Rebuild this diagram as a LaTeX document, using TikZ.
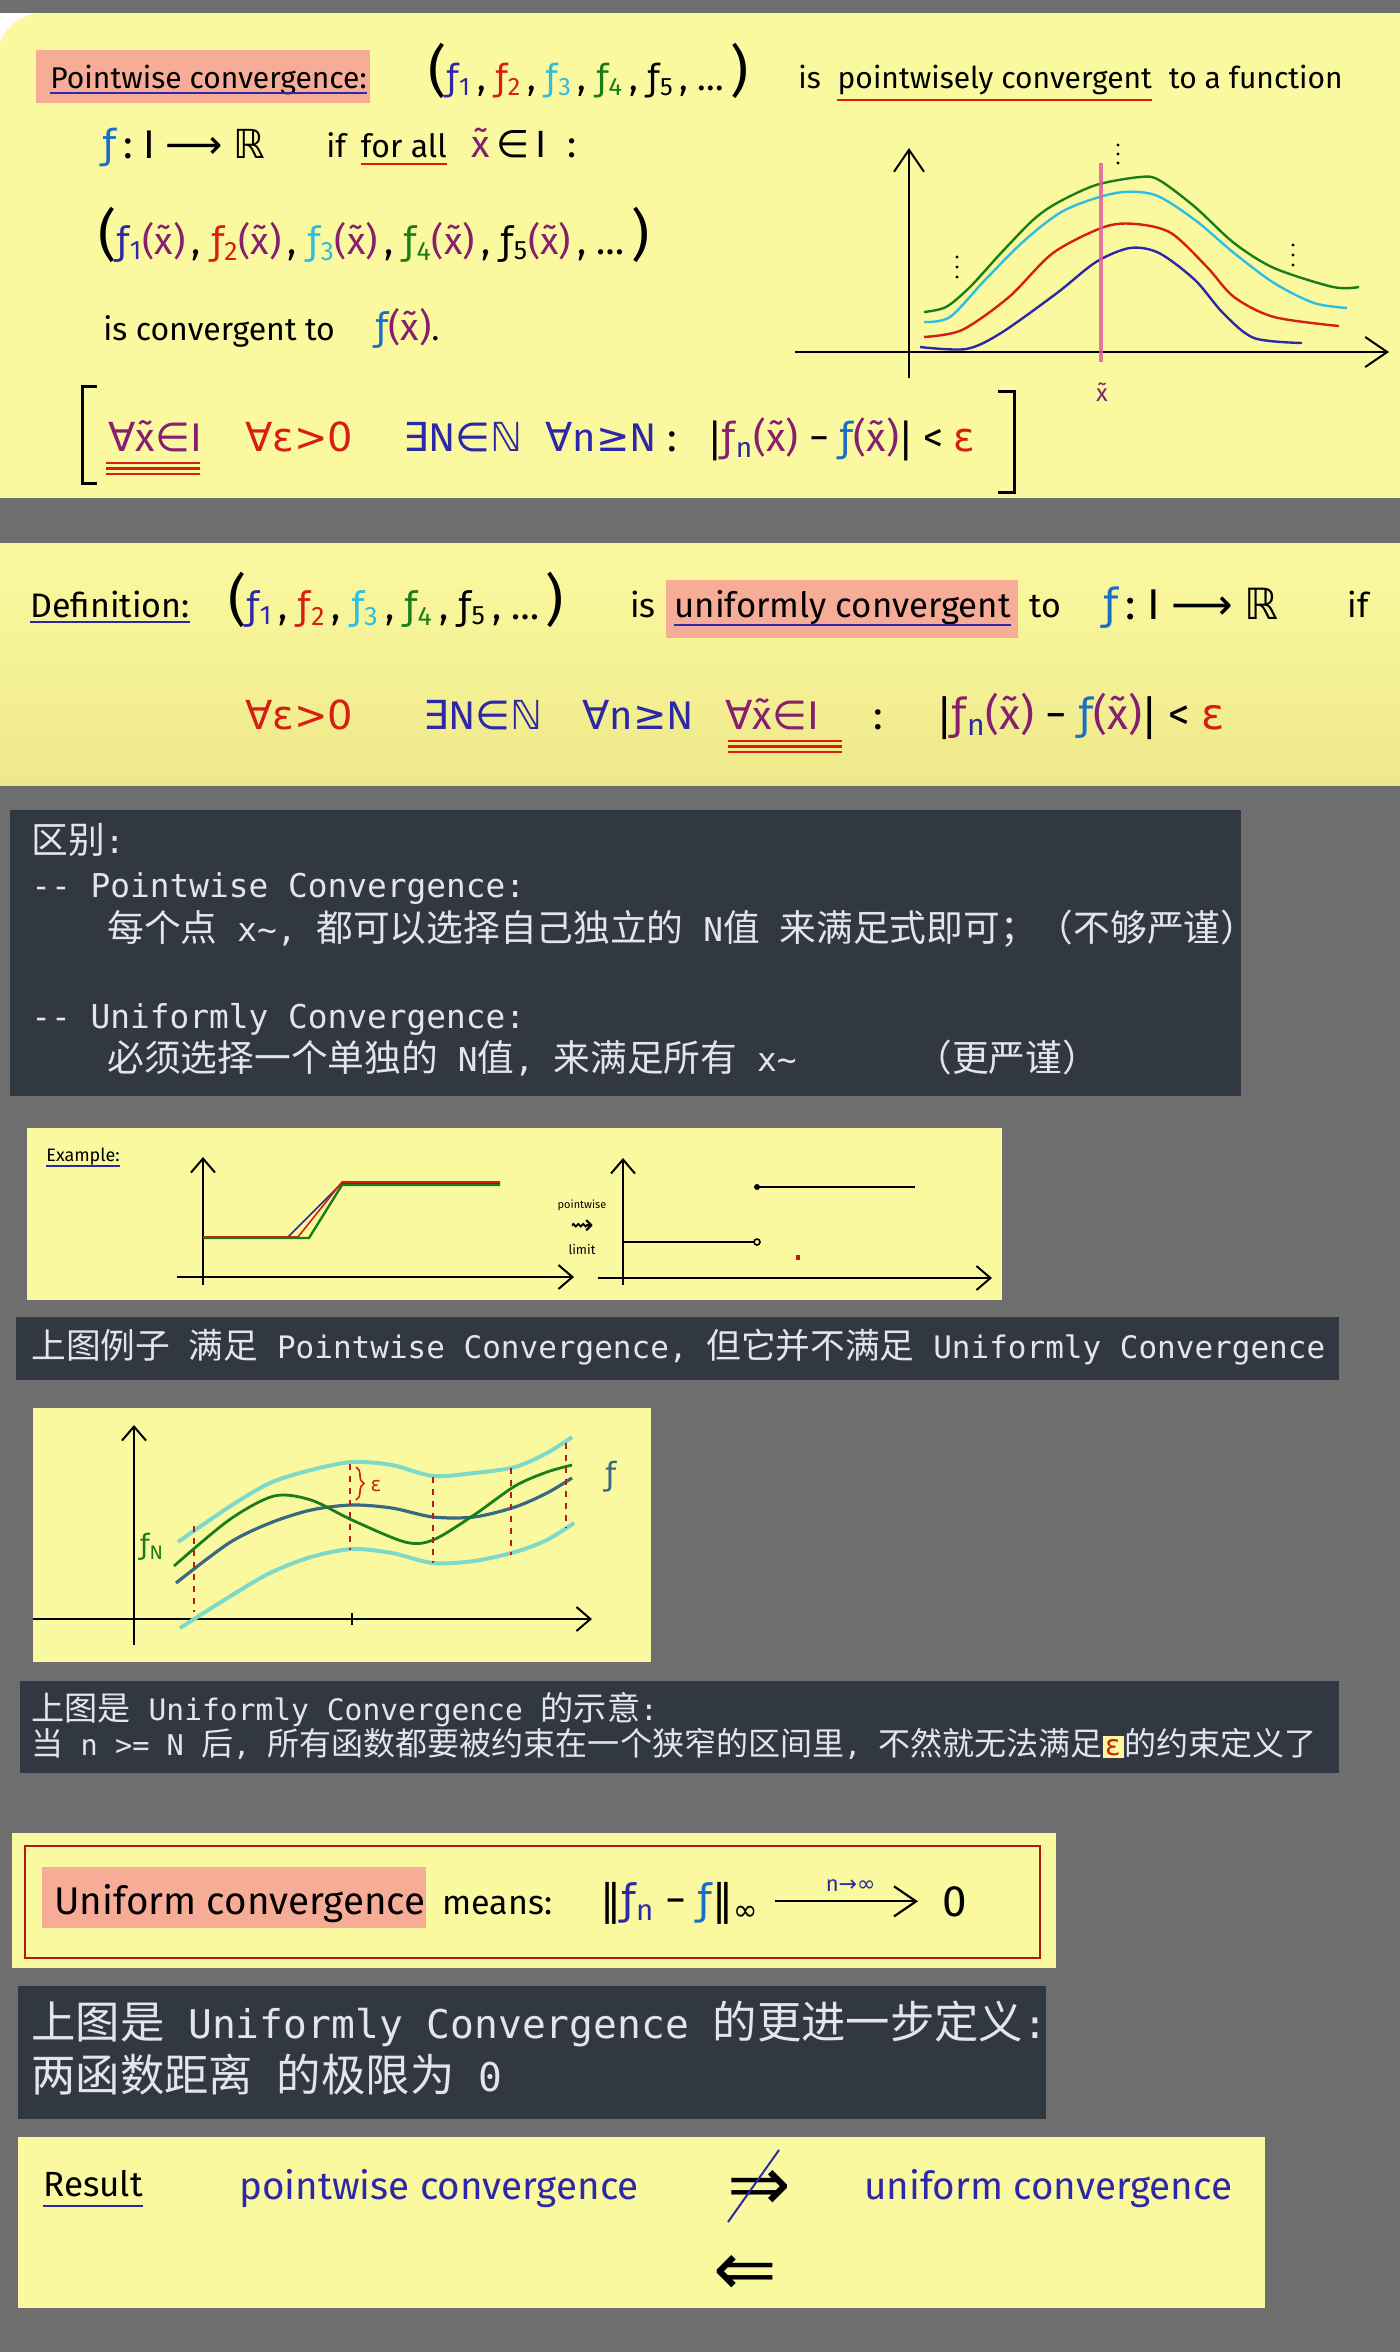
\documentclass[tikz,border=0pt]{standalone}
\usepackage{fontspec}
\setmainfont{Fira Sans}
\setmonofont{DejaVu Sans Mono}
\newfontfamily\symf{DejaVu Sans}
\newfontfamily\cjk[Scale=1.12]{Noto Sans CJK SC}
\usetikzlibrary{arrows.meta,positioning,decorations.pathreplacing}

\definecolor{bggray}{RGB}{110,110,110}
\definecolor{paper}{RGB}{251,249,160}
\definecolor{paperlow}{RGB}{238,233,138}
\definecolor{slate}{RGB}{50,56,66}
\definecolor{salmon}{RGB}{247,172,152}
\definecolor{indigo}{RGB}{45,40,165}
\definecolor{fred}{RGB}{215,30,20}
\definecolor{fcyan}{RGB}{45,190,225}
\definecolor{fgreen}{RGB}{25,125,25}
\definecolor{xpurple}{RGB}{135,30,110}
\definecolor{fblue}{RGB}{25,110,200}
\definecolor{pinkline}{RGB}{225,95,155}
\definecolor{mintband}{RGB}{125,218,200}
\definecolor{slateblue}{RGB}{55,105,130}
\definecolor{lighttext}{RGB}{226,229,233}
\definecolor{dashred}{RGB}{180,30,30}

\newcommand\zh[1]{{\cjk #1}}
\newcommand\sym[1]{{\symf #1}}
\newcommand\fsym{{\symf ƒ}}
\newcommand\xtil{\~{x}}
\newcommand\fcol[2]{\textcolor{#1}{\fsym\textsubscript{#2}}}
\newcommand\atx{\textcolor{xpurple}{(\xtil)}}
\newcommand\bigp[1]{{\fontsize{28}{28}\selectfont #1}}
\newcommand\fseq{\bigp{(}\fcol{indigo}{1}\,,\ \fcol{fred}{2}\,,\ \fcol{fcyan}{3}\,,\ \fcol{fgreen}{4}\,,\ \fcol{black}{5}\,,\ …\,\bigp{)}}
\newcommand\fvals{\bigp{(}\fcol{indigo}{1}\atx\,,\ \fcol{fred}{2}\atx\,,\ \fcol{fcyan}{3}\atx\,,\ \fcol{fgreen}{4}\atx\,,\ \fcol{black}{5}\atx\,,\ …\,\bigp{)}}
\newcommand\absdiff{\sym{|}\textcolor{xpurple}{\fsym}\textcolor{indigo}{\textsubscript{n}}\atx\ −\ \textcolor{fblue}{\fsym}\atx\sym{|}\ <\ \textcolor{fred}{\sym{ε}}}
\newcommand\mapsig{\textcolor{fblue}{\fsym}\,:\ I\ \sym{⟶}\ \sym{ℝ}}
\newcommand\epsbox{{\fboxsep=1.5pt\colorbox{paper}{\textcolor{fred}{\symf ε}}}}

\begin{document}
\begin{tikzpicture}[x=0.5pt, y=-0.5pt,
  >={Straight Barb[length=11pt,width=15pt]},
  txt/.style={inner sep=0pt, anchor=base west, font=\fontsize{15}{18}\selectfont},
  bigtxt/.style={inner sep=0pt, anchor=base west, font=\fontsize{20}{24}\selectfont},
  hand/.style={inner sep=0pt, anchor=base west, font=\fontsize{19.3}{22}\selectfont},
  note/.style={inner sep=0pt, anchor=base west, text=lighttext, font=\ttfamily\fontsize{#1}{#1}\selectfont},
  axis/.style={line width=1pt, ->},
  smallaxis/.style={line width=1pt, -{Straight Barb[length=7pt,width=12pt]}},
  curve/.style={line width=1.2pt},
  band/.style={mintband, line width=2pt},
  uline/.style={line width=1.4pt},
  cut/.style={dashred, dashed, line width=0.8pt}
]

% backdrop and panels
\fill[bggray] (0,0) rectangle (1400,2352);
\fill[paper] (0,13) rectangle (1400,498);
\fill[white] (0,13) -- (36,13) .. controls (15,18) and (4,30) .. (0,43) -- cycle;
\shade[top color=paper, bottom color=paperlow] (0,543) rectangle (1400,785);
\fill[slate] (10,810) rectangle (1241,1096);
\fill[paper] (27,1128) rectangle (1002,1300);
\fill[slate] (16,1317) rectangle (1339,1380);
\fill[paper] (33,1408) rectangle (651,1662);
\fill[slate] (20,1681) rectangle (1339,1773);
\fill[paper] (12,1833) rectangle (1056,1968);
\fill[slate] (18,1986) rectangle (1046,2119);
\fill[paper] (18,2137) rectangle (1265,2308);

% pointwise convergence
\fill[salmon] (36,50) rectangle (370,103);
\node[txt] (pwlabel) at (50,88) {Pointwise convergence:};
\draw[indigo, uline] ([yshift=-2.5pt]pwlabel.base west) -- ([yshift=-2.5pt]pwlabel.base east);
\node[txt, font=\fontsize{18}{22}\selectfont] (seq1) at (428,90) {\fseq};
\node[txt] (is1) at (798,88) {is};
\node[txt, base right=8pt of is1] (pwc) {pointwisely convergent};
\draw[fred, uline] ([yshift=-6pt]pwc.base west) -- ([yshift=-6pt]pwc.base east);
\node[txt, base right=8pt of pwc] (tofun) {to a function};

\node[txt, font=\fontsize{20}{24}\selectfont] (map1) at (102,158) {\mapsig};
\node[txt, font=\fontsize{16}{19}\selectfont] (if1) at (326,157) {if};
\node[txt, font=\fontsize{16}{19}\selectfont, base right=7pt of if1] (forall1) {for all};
\draw[fred, uline] ([yshift=-3.5pt]forall1.base west) -- ([yshift=-3.5pt]forall1.base east);
\node[txt, font=\fontsize{19}{22}\selectfont, base right=12pt of forall1] (xin1) {\textcolor{xpurple}{\xtil}\,\sym{∈}\,I \ :};

\node[txt, font=\fontsize{19}{22}\selectfont] (vals) at (98,254) {\fvals};
\node[txt, font=\fontsize{16}{19}\selectfont] (conv) at (103,340) {is convergent to \quad{\fontsize{19}{22}\selectfont\textcolor{fblue}{\fsym}\atx}.};

\draw[line width=1.5pt] (97,386) -- (82,386) -- (82,483) -- (97,483);
\draw[line width=1.5pt] (998,391) -- (1014,391) -- (1014,492) -- (998,492);
\node[bigtxt, text=xpurple] (allx1) at (108,451) {\sym{∀}\xtil\sym{∈}I};
\draw[fred, line width=1.2pt] (106,463) -- (200,463);
\draw[fred, line width=1.2pt] (106,468.5) -- (200,468.5);
\draw[fred, line width=1.2pt] (106,474) -- (200,474);
\node[bigtxt, text=fred] (alleps1) at (245,451) {\sym{∀ε>0}};
\node[bigtxt, text=indigo] (exN1) at (403,451) {\sym{∃}N\sym{∈ℕ}};
\node[bigtxt, text=indigo] (alln1) at (545,451) {\sym{∀}n\sym{≥}N \textcolor{black}{:}};
\node[bigtxt] (ineq1) at (708,451) {\absdiff};

% sketch of the sequence at x~
\draw[axis] (909,378) -- (909,148);
\draw[axis] (795,352) -- (1389,352);
\draw[fgreen, curve] plot[smooth] coordinates {(924,312) (946,307) (970,287) (1001,253) (1033,220) (1057,203) (1096,185) (1140,177) (1159,180) (1195,207) (1234,243) (1274,268) (1333,287) (1359,287)};
\draw[fcyan, curve] plot[smooth] coordinates {(924,322) (950,317) (985,280) (1025,240) (1065,210) (1116,193) (1155,195) (1195,220) (1234,253) (1274,283) (1314,303) (1347,308)};
\draw[fred, curve] plot[smooth] coordinates {(924,337) (962,330) (1009,297) (1053,253) (1104,227) (1136,224) (1171,233) (1207,267) (1234,297) (1274,317) (1339,326)};
\draw[indigo, curve] plot[smooth] coordinates {(920,347) (966,349) (1001,333) (1057,293) (1096,262) (1130,248) (1159,253) (1195,280) (1223,313) (1254,338) (1302,343)};
\draw[pinkline, line width=2pt, opacity=0.85] (1101,163) -- (1101,362);
\node[text=xpurple, font=\fontsize{12}{14}\selectfont] (xlab) at (1102,392) {\xtil};
\fill (1118,145) circle (1.6) (1118,154) circle (1.6) (1118,163) circle (1.6);
\fill (957,257) circle (1.6) (957,267) circle (1.6) (957,277) circle (1.6);
\fill (1293,245) circle (1.6) (1293,255) circle (1.6) (1293,265) circle (1.6);

% definition of uniform convergence
\fill[salmon] (666,580) rectangle (1018,638);
\node[txt, font=\fontsize{17}{20}\selectfont] (defn) at (30,617) {Definition:};
\draw[indigo, uline] ([yshift=-2.5pt]defn.base west) -- ([yshift=-2.5pt]defn.base east);
\node[txt, font=\fontsize{19}{22}\selectfont] (seq2) at (228,619) {\fseq};
\node[txt, font=\fontsize{17}{20}\selectfont] (is2) at (630,617) {is};
\node[txt, font=\fontsize{17.4}{20}\selectfont] (ucv) at (674,617) {uniformly convergent};
\draw[indigo, uline] ([yshift=-4pt]ucv.base west) -- ([yshift=-4pt]ucv.base east);
\node[txt, font=\fontsize{17}{20}\selectfont] (to2) at (1029,617) {to};
\node[txt, font=\fontsize{21.5}{24}\selectfont] (map2) at (1103,619) {\mapsig};
\node[txt, font=\fontsize{17}{20}\selectfont] (if2) at (1347,617) {if};

\node[bigtxt, text=fred] (alleps2) at (245,729) {\sym{∀ε>0}};
\node[bigtxt, text=indigo] (exN2) at (423,729) {\sym{∃}N\sym{∈ℕ}};
\node[bigtxt, text=indigo] (alln2) at (582,729) {\sym{∀}n\sym{≥}N};
\node[bigtxt, text=xpurple] (allx2) at (725,729) {\sym{∀}\xtil\sym{∈}I};
\draw[fred, line width=1.2pt] (728,741) -- (842,741);
\draw[fred, line width=1.2pt] (728,746.5) -- (842,746.5);
\draw[fred, line width=1.2pt] (728,752) -- (842,752);
\node[bigtxt] (colon2) at (873,729) {:};
\node[bigtxt, font=\fontsize{21.5}{24}\selectfont] (ineq2) at (937,729) {\absdiff};

% notes: difference
\node[note=16.4] (diff) at (31,853) {\zh{区别}:};
\node[note=16.4] (pwhead) at (31,897) {-{}- Pointwise Convergence:};
\node[note=16.4] (pwtext) at (107,941) {\zh{每个点} x\textasciitilde, \zh{都可以选择自己独立的} N\zh{值} \zh{来满足式即可；（不够严谨）}};
\node[note=16.4] (uchead) at (31,1028) {-{}- Uniformly Convergence:};
\node[note=16.4] (uctext) at (107,1071) {\zh{必须选择一个单独的} N\zh{值}, \zh{来满足所有} x\textasciitilde};
\node[note=16.4] (strict) at (915,1071) {\zh{（更严谨）}};

% example
\node[inner sep=0pt, anchor=base west, font=\fontsize{9}{10}\selectfont] (ex) at (46,1161) {Example:};
\draw[indigo, line width=1pt] ([yshift=-2.5pt]ex.base west) -- ([yshift=-2.5pt]ex.base east);
\draw[smallaxis] (203,1285) -- (203,1157);
\draw[smallaxis] (177,1277) -- (574,1277);
\draw[indigo, line width=0.8pt] (203,1237) -- (288,1237) -- (342,1183) -- (500,1183);
\draw[fred, line width=0.8pt] (203,1237) -- (298,1237) -- (342,1182) -- (500,1182);
\draw[fgreen, line width=1.2pt] (203,1238) -- (309,1238) -- (342,1185) -- (500,1185);
\node[font=\fontsize{5.5}{6}\selectfont] (pwt) at (582,1205) {pointwise};
\node[font=\fontsize{14}{14}\selectfont, inner sep=0pt, below=1pt of pwt] (squig) {\sym{⇝}};
\node[font=\fontsize{6.5}{7}\selectfont, below=1pt of squig] (lim) {limit};
\draw[smallaxis] (623,1285) -- (623,1158);
\draw[smallaxis] (598,1278) -- (992,1278);
\draw[line width=1.1pt] (623,1242) -- (754,1242);
\draw[line width=0.8pt, fill=paper] (757,1242) circle (3);
\fill (757,1187) circle (3);
\draw[line width=1.1pt] (757,1187) -- (915,1187);
\fill[dashred] (796,1255) rectangle (800,1260);

\node[note=15.5] (exnote) at (31,1358) {\zh{上图例子} \zh{满足} Pointwise Convergence, \zh{但它并不满足} Uniformly Convergence};

% band around f
\draw[smallaxis] (134,1645) -- (134,1425);
\draw[smallaxis] (33,1619) -- (592,1619);
\draw[line width=0.8pt] (352,1613) -- (352,1625);
\draw[band] plot[smooth] coordinates {(178,1542) (229,1507) (270,1483) (311,1470) (352,1462) (392,1465) (433,1476) (474,1473) (515,1467) (547,1453) (572,1437)};
\draw[band] plot[smooth] coordinates {(180,1628) (229,1597) (270,1573) (311,1557) (352,1549) (392,1553) (433,1563) (474,1561) (515,1552) (547,1540) (574,1523)};
\draw[slateblue, line width=1.6pt] plot[smooth] coordinates {(176,1583) (229,1543) (270,1523) (311,1510) (352,1505) (392,1508) (433,1517) (474,1517) (515,1507) (547,1493) (572,1478)};
\draw[fgreen, line width=1.4pt] plot[smooth] coordinates {(174,1566) (229,1520) (274,1496) (311,1500) (352,1520) (405,1542) (433,1540) (474,1515) (515,1486) (547,1472) (572,1465)};
\draw[cut] (194,1526) -- (194,1612);
\draw[cut] (350,1464) -- (350,1550);
\draw[cut] (433,1477) -- (433,1563);
\draw[cut] (511,1468) -- (511,1555);
\draw[cut] (566,1443) -- (566,1528);
\draw[fred, line width=0.8pt, decorate, decoration={brace, amplitude=4pt}] (356,1467) -- (356,1500);
\node[text=fred, font=\fontsize{10}{11}\selectfont] (epslab) at (376,1486) {\sym{ε}};
\node[text=fgreen, font=\fontsize{14}{16}\selectfont] (fnlab) at (152,1547) {\fsym\textsubscript{N}};
\node[text=slateblue, font=\fontsize{16}{18}\selectfont] (flab) at (611,1477) {\fsym};

\node[note=14.8] (bandnote1) at (31,1720) {\zh{上图是} Uniformly Convergence \zh{的示意}:};
\node[note=14.3] (bandnote2) at (31,1755) {\zh{当} n >= N \zh{后}, \zh{所有函数都要被约束在一个狭窄的区间里}, \zh{不然就无法满足}\epsbox\zh{的约束定义了}};

% sup norm
\draw[fred!85!black, line width=1pt] (25,1846) rectangle (1040,1958);
\fill[salmon] (42,1867) rectangle (426,1928);
\node[hand] (ucl) at (54,1914) {Uniform convergence};
\node[hand, font=\fontsize{17}{20}\selectfont] (means) at (442,1914) {means:};
\node[hand, font=\fontsize{21}{24}\selectfont] (norm) at (600,1914) {\sym{‖}\textcolor{indigo}{\fsym\textsubscript{n}}\ −\ \textcolor{fblue}{\fsym}\sym{‖}\textsubscript{\sym{∞}}};
\node[hand, font=\fontsize{22}{24}\selectfont] (zero) at (942,1916) {0};
\draw[->, line width=1.1pt, shorten <=8pt, shorten >=12pt] (norm.east |- zero.center) -- (zero.west |- zero.center)
  node[midway, above=1pt, text=indigo, font=\fontsize{11}{12}\selectfont] {n\sym{→}\sym{∞}};

\node[note=19.8] (normnote1) at (31,2038) {\zh{上图是} Uniformly Convergence \zh{的更进一步定义}:};
\node[note=19.8] (normnote2) at (31,2091) {\zh{两函数距离} \zh{的极限为} 0};

% result
\node[inner sep=0pt, anchor=base west, font=\fontsize{17.5}{20}\selectfont] (res) at (43,2196) {Result};
\draw[indigo, uline] ([yshift=-5pt]res.base west) -- ([yshift=-5pt]res.base east);
\node[hand, text=indigo] (pwc2) at (239,2199) {pointwise convergence};
\node[font=\fontsize{38}{40}\selectfont] (nimp) at (759,2190) {\sym{⇒}};
\draw[indigo, line width=1pt] (779,2150) -- (728,2222);
\node[hand, text=indigo] (uc2) at (864,2199) {uniform convergence};
\node[font=\fontsize{38}{40}\selectfont] (imp) at (745,2275) {\sym{⇐}};

\end{tikzpicture}
\end{document}
